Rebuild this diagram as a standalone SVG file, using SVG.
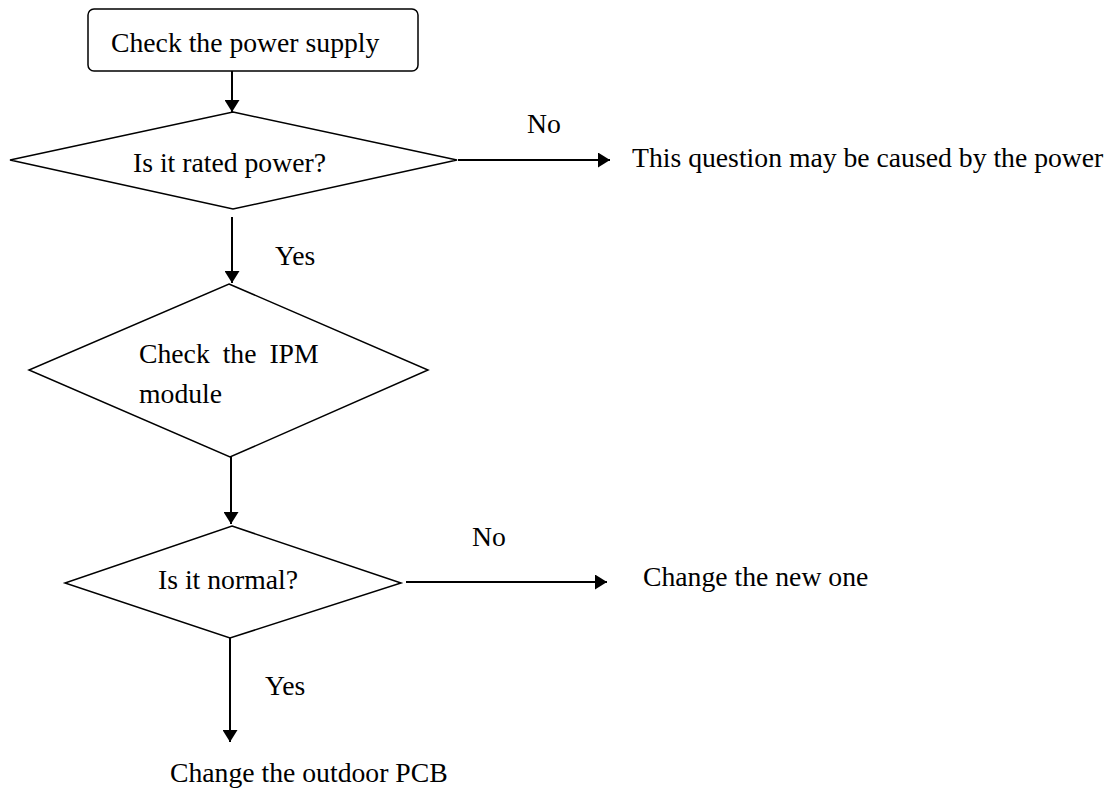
<svg xmlns="http://www.w3.org/2000/svg" width="1110" height="789" viewBox="0 0 1110 789">
<style>
.shape{fill:#fff;stroke:#000;stroke-width:1.5}
.t{font-family:"Liberation Serif","Times New Roman",serif;font-size:27.7px;fill:#000}
.c{stroke:#000;stroke-width:2;fill:none}
</style>
<defs>
<marker id="ah" viewBox="0 0 12 15" refX="12" refY="7.5" markerWidth="12" markerHeight="15" markerUnits="userSpaceOnUse" orient="auto">
<path d="M0,0 L12,7.5 L0,15 Z" fill="#000"/>
</marker>
</defs>
<rect width="1110" height="789" fill="#fff"/>
<g id="connectors">
<line class="c" x1="232" y1="71" x2="232" y2="112" marker-end="url(#ah)"/>
<line class="c" x1="458" y1="160" x2="610" y2="160" marker-end="url(#ah)"/>
<line class="c" x1="232" y1="217" x2="232" y2="283" marker-end="url(#ah)"/>
<line class="c" x1="231" y1="457" x2="231" y2="524" marker-end="url(#ah)"/>
<line class="c" x1="406" y1="582" x2="607" y2="582" marker-end="url(#ah)"/>
<line class="c" x1="230" y1="638" x2="230" y2="742" marker-end="url(#ah)"/>
<text class="t" x="527" y="133">No</text>
<text class="t" x="275" y="265">Yes</text>
<text class="t" x="472" y="546">No</text>
<text class="t" x="265" y="695">Yes</text>
</g>
<g id="start">
<rect class="shape" x="88" y="9" width="330" height="62" rx="6"/>
<text class="t" x="111" y="52">Check the power supply</text>
</g>
<g id="rated">
<polygon class="shape" points="233,112 457,160 233,209 10,160"/>
<text class="t" x="133" y="172">Is it rated power?</text>
</g>
<g id="power-cause">
<text class="t" x="632" y="167">This question may be caused by the power</text>
</g>
<g id="ipm">
<polygon class="shape" points="229,284 428,370 230,457 29,370"/>
<text class="t" x="139" y="363" word-spacing="6">Check the IPM</text>
<text class="t" x="139" y="403">module</text>
</g>
<g id="normal">
<polygon class="shape" points="232,526 401,583 230,638 65,583"/>
<text class="t" x="158" y="589">Is it normal?</text>
</g>
<g id="new-one">
<text class="t" x="643" y="586">Change the new one</text>
</g>
<g id="pcb">
<text class="t" x="170" y="782">Change the outdoor PCB</text>
</g>
</svg>
